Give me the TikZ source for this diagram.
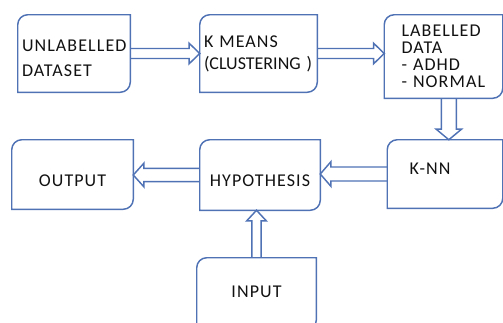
\documentclass[tikz,border=0pt]{standalone}
\usepackage{fontspec}
\setmainfont{Carlito}[LetterSpace=6]
\usetikzlibrary{calc}
\definecolor{flowblue}{HTML}{4F72B5}
\definecolor{inktext}{HTML}{111111}
\tikzset{
  % boxes
  box/.style={inner ysep=0pt,align=left,text=inktext,
              font=\fontsize{13.5}{16.5}\selectfont},
  boxline/.style={draw=flowblue,line width=1.1pt},
  % hollow block arrows
  arrline/.style={draw=flowblue,line width=1.1pt,line join=miter},
}
\newcommand\cornr{7.5pt}
\newcommand\blockarrow[3][3.75pt]{%
  \pgfmathsetlengthmacro\headw{#1+4pt}%
  \coordinate (hb) at ($(#3)!8pt!(#2)$);
  \draw[arrline] ($(#2)!#1!90:(#3)$) -- ($(hb)!#1!90:(#3)$)
    -- ($(hb)!\headw!90:(#3)$) -- (#3) -- ($(hb)!\headw!-90:(#3)$)
    -- ($(hb)!#1!-90:(#3)$) -- ($(#2)!#1!-90:(#3)$);
}

\begin{document}
\begin{tikzpicture}[x=0.75pt,y=-0.75pt]
  \useasboundingbox (0,0) rectangle (503,322);
  \clip (0,0) rectangle (503,322);
  \node[box,inner xsep=3pt,text width=78pt,minimum height=57.75pt,text height=16.2pt] (unl) at (74,53.5) {UNLABELLED\\[2.25pt]DATASET};
  \node[box,inner xsep=3pt,text width=81.75pt,minimum height=57.75pt] (kmeans) at (258.5,53.5) {K MEANS\\\mbox{\addfontfeatures{LetterSpace=0}(CLUSTERING~)}};
  \node[box,inner xsep=12.75pt,text width=63pt,minimum height=62.25pt] (lab) at (443.5,56.5) {LABELLED\\[-3.75pt]DATA\\[-3.75pt]- ADHD\\[-3.75pt]- NORMAL};
  \node[box,inner xsep=16.5pt,text width=53.25pt,minimum height=51pt,text depth=7.5pt] (knn) at (445,174) {K-NN};
  \node[box,align=center,minimum width=90pt,minimum height=52.5pt,text height=17.7pt,text depth=0pt] (hyp) at (260,175) {HYPOTHESIS};
  \node[box,align=center,minimum width=90.75pt,minimum height=51.75pt,text height=17.7pt,text depth=0pt] (out) at (72.5,174.5) {OUTPUT};
  \node[box,align=center,minimum width=89.25pt,minimum height=54pt,text depth=3pt] (inp) at (256.5,294) {INPUT};
  \foreach \b in {unl,kmeans,lab,knn,hyp,out,inp}
    \draw[boxline] (\b.south west) -- ([yshift=-\cornr]\b.north west)
      arc[start angle=180,end angle=90,radius=\cornr] -- (\b.north east)
      -- ([yshift=\cornr]\b.south east)
      arc[start angle=0,end angle=-90,radius=\cornr] -- cycle;
  \blockarrow{unl.east}{kmeans.west}
  \blockarrow{kmeans.east}{kmeans.east -| lab.west}
  \coordinate (labdrop) at ([xshift=4pt]lab.south);
  \blockarrow[5.6pt]{labdrop}{labdrop |- knn.north}
  \blockarrow[5.25pt]{knn.west}{knn.west -| hyp.east}
  \blockarrow[4.9pt]{hyp.west}{hyp.west -| out.east}
  \blockarrow[3.4pt]{inp.north}{inp.north |- hyp.south}
\end{tikzpicture}
\end{document}
